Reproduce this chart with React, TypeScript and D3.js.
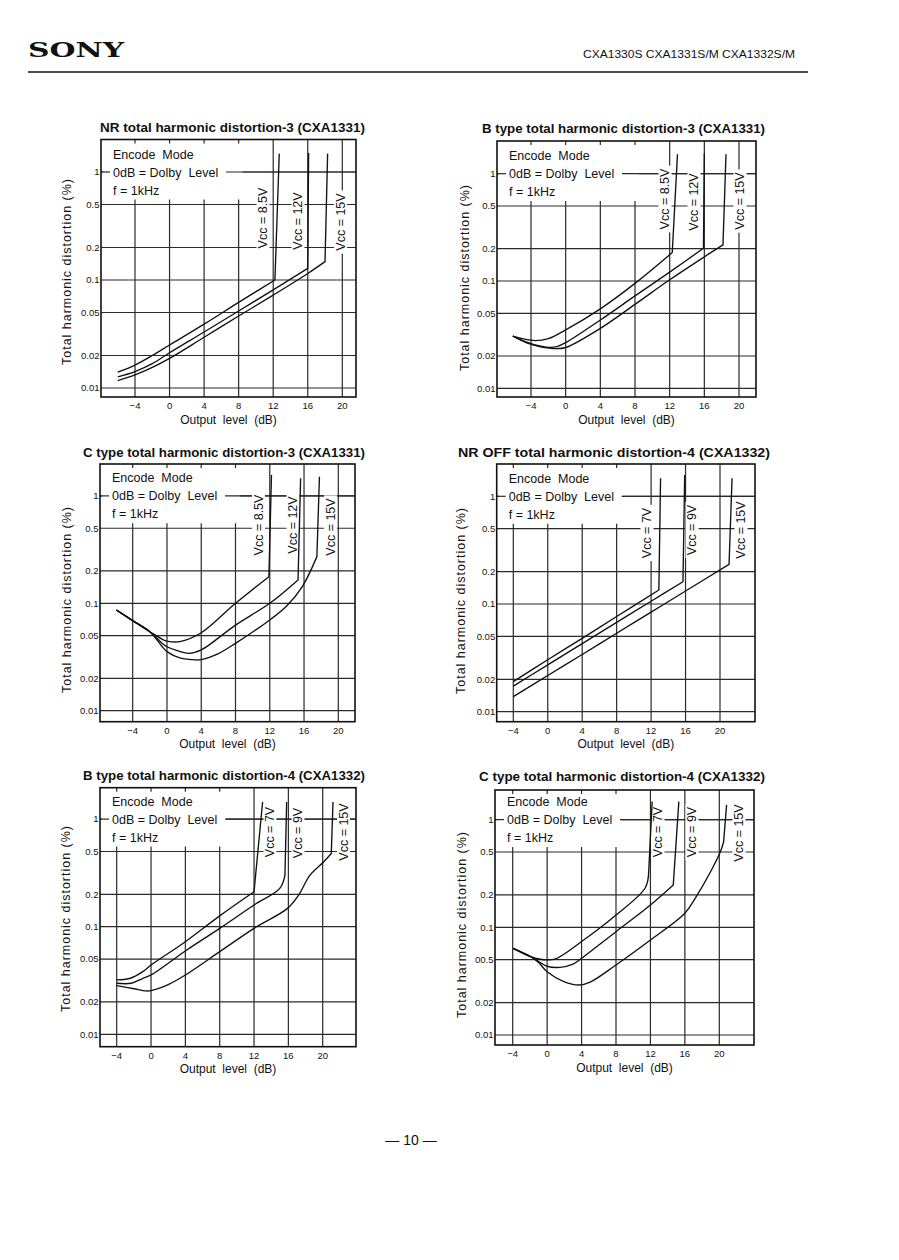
import React from 'react';
import * as d3 from 'd3';

// ---------- axis ticks ----------
const xTicks = [-4, 0, 4, 8, 12, 16, 20];
const xTickLabels = ['−4', '0', '4', '8', '12', '16', '20'];
const yTicks = [1, 0.5, 0.2, 0.1, 0.05, 0.02, 0.01];
const yTickLabels = ['1', '0.5', '0.2', '0.1', '0.05', '0.02', '0.01'];
const yTickLabelsC4 = ['1', '0.5', '0.2', '0.1', '00.5', '0.02', '0.01'];

// ---------- series: [output level dB, THD %]; last point = top of the clipping rise ----------
// NR total harmonic distortion-3 (CXA1331)
const nr3Vcc85 = [[-6, 0.014], [-4, 0.0163], [-2, 0.02], [0, 0.025], [4, 0.039], [8, 0.062], [12.2, 0.1], [12.7, 1.48]];
const nr3Vcc12 = [[-6, 0.0127], [-4, 0.0142], [-2, 0.0168], [0, 0.0212], [4, 0.033], [8, 0.0516], [12, 0.081], [16.0, 0.128], [16.1, 1.5]];
const nr3Vcc15 = [[-6, 0.0117], [-4, 0.0132], [-2, 0.0155], [0, 0.0188], [4, 0.0295], [8, 0.0464], [12, 0.0725], [16, 0.115], [18.0, 0.148], [18.3, 1.48]];
// B type total harmonic distortion-3 (CXA1331)
const b3Vcc85 = [[-6.1, 0.0307], [-5, 0.029], [-3.5, 0.0278], [-2, 0.029], [0, 0.035], [4, 0.055], [8, 0.095], [12.3, 0.184], [12.9, 1.52]];
const b3Vcc12 = [[-6.1, 0.0307], [-4.5, 0.027], [-3, 0.0248], [-2, 0.0241], [-1, 0.0245], [0, 0.0266], [4, 0.0433], [8, 0.0726], [12, 0.121], [15.9, 0.202], [16.0, 1.55]];
const b3Vcc15 = [[-6.1, 0.0307], [-4.5, 0.0265], [-3, 0.0245], [-1.1, 0.0234], [0, 0.024], [4, 0.0362], [8, 0.0606], [12, 0.1026], [16, 0.168], [18.15, 0.217], [18.5, 1.52]];
// C type total harmonic distortion-3 (CXA1331)
const c3Vcc85 = [[-5.9, 0.0867], [-4, 0.069], [-2, 0.0544], [-0.5, 0.046], [0, 0.0445], [1.5, 0.044], [4, 0.0532], [8, 0.1], [11.9, 0.177], [12.2, 1.57]];
const c3Vcc12 = [[-5.9, 0.0867], [-4, 0.069], [-2, 0.0544], [-0.5, 0.042], [0, 0.0394], [1.3, 0.036], [2.6, 0.0342], [4, 0.0368], [8, 0.0627], [12, 0.1], [15.3, 0.165], [15.6, 1.46]];
const c3Vcc15 = [[-5.9, 0.0867], [-4, 0.069], [-2, 0.0544], [-0.5, 0.039], [0, 0.0355], [1.5, 0.031], [3.4, 0.0297], [4, 0.0299], [6, 0.034], [8, 0.0424], [12, 0.07], [14, 0.095], [15.8, 0.143], [17.5, 0.272], [17.8, 1.51]];
// NR OFF total harmonic distortion-4 (CXA1332)
const nroff4Vcc7 = [[-4, 0.019], [0, 0.0304], [4, 0.048], [8, 0.0765], [12.9, 0.135], [13.1, 1.47]];
const nroff4Vcc9 = [[-4, 0.0173], [0, 0.0272], [4, 0.0429], [8, 0.0675], [12, 0.106], [15.7, 0.161], [15.9, 1.58]];
const nroff4Vcc15 = [[-4, 0.0138], [0, 0.0217], [4, 0.034], [8, 0.0535], [12, 0.084], [16, 0.132], [21.05, 0.233], [21.4, 1.47]];
// B type total harmonic distortion-4 (CXA1332)
const b4Vcc7 = [[-4, 0.032], [-2.5, 0.033], [-1, 0.038], [0, 0.044], [4, 0.0725], [8, 0.126], [12, 0.211], [13, 1.44]];
const b4Vcc9 = [[-4, 0.0298], [-2.3, 0.0298], [-1, 0.033], [0, 0.0356], [4, 0.0595], [8, 0.0964], [12, 0.159], [15, 0.227], [15.6, 0.3], [15.8, 1.44]];
const b4Vcc15 = [[-4, 0.0283], [-2, 0.0265], [-0.6, 0.0253], [0, 0.0255], [2, 0.029], [4, 0.0356], [8, 0.0586], [12, 0.0966], [15.9, 0.148], [17.2, 0.197], [18.5, 0.3], [20.1, 0.4], [21.0, 0.479], [21.2, 1.44]];
// C type total harmonic distortion-4 (CXA1332)
const c4Vcc7 = [[-3.95, 0.0638], [-1.9, 0.0533], [-0.8, 0.0505], [0, 0.0498], [1, 0.051], [4, 0.0737], [8, 0.13], [11.4, 0.233], [11.8, 0.33], [12.2, 1.47]];
const c4Vcc9 = [[-3.95, 0.0638], [-1.9, 0.0533], [-1.3, 0.05], [0, 0.0435], [1.5, 0.0425], [3, 0.0455], [4, 0.0516], [8, 0.0911], [12, 0.161], [14.65, 0.247], [15.3, 1.47]];
const c4Vcc15 = [[-3.95, 0.0638], [-1.9, 0.0533], [-1.0, 0.047], [0, 0.0387], [1.94, 0.0313], [3.7, 0.0291], [5, 0.031], [8, 0.0447], [12, 0.0762], [16, 0.135], [17.2, 0.186], [19, 0.33], [20.1, 0.497], [20.5, 0.62], [20.85, 1.37]];

// ---------- texts ----------
const titles = [
  'NR total harmonic distortion-3 (CXA1331)',
  'B type total harmonic distortion-3 (CXA1331)',
  'C type total harmonic distortion-3 (CXA1331)',
  'NR OFF total harmonic distortion-4 (CXA1332)',
  'B type total harmonic distortion-4 (CXA1332)',
  'C type total harmonic distortion-4 (CXA1332)',
];
const labels3 = ['Vcc = 8.5V', 'Vcc = 12V', 'Vcc = 15V'];
const labels4 = ['Vcc = 7V', 'Vcc = 9V', 'Vcc = 15V'];
const boxLines = ['Encode  Mode', '0dB = Dolby  Level', 'f = 1kHz'];

// ---------- layout ----------
const FONT = '"Liberation Sans", Arial, Helvetica, sans-serif';
const panels = [
  { title: titles[0], frame: [101, 139.5, 356, 397], gx: [135, 342.3], gy: [388, 280], tx: 100, ty: 131.5, tl: 265,
    yt: [67, 272], yLabels: yTickLabels, series: [nr3Vcc85, nr3Vcc12, nr3Vcc15], labels: labels3,
    lpos: [[263, 218], [298, 221], [340.5, 222]] },
  { title: titles[1], frame: [497, 141, 756, 397], gx: [531, 739], gy: [388.3, 281], tx: 482, ty: 132.5, tl: 283,
    yt: [465, 278], yLabels: yTickLabels, series: [b3Vcc85, b3Vcc12, b3Vcc15], labels: labels3,
    lpos: [[665, 199], [694, 202], [740, 201]] },
  { title: titles[2], frame: [100, 464, 355, 721.7], gx: [132.7, 338.3], gy: [710.7, 603.3], tx: 83, ty: 456.5, tl: 282,
    yt: [66.7, 600], yLabels: yTickLabels, series: [c3Vcc85, c3Vcc12, c3Vcc15], labels: labels3,
    lpos: [[258.5, 525], [293, 525], [330.5, 527]] },
  { title: titles[3], frame: [496.7, 464, 755, 721.7], gx: [513.3, 720], gy: [711.7, 604], tx: 458, ty: 456.5, tl: 312,
    yt: [460.7, 601], yLabels: yTickLabels, series: [nroff4Vcc7, nroff4Vcc9, nroff4Vcc15], labels: labels4,
    lpos: [[647, 533], [692, 530], [741, 530]] },
  { title: titles[4], frame: [100, 787.7, 356, 1046.7], gx: [116.7, 322.7], gy: [1034.3, 926.7], tx: 83, ty: 779.5, tl: 282,
    yt: [66, 919], yLabels: yTickLabels, series: [b4Vcc7, b4Vcc9, b4Vcc15], labels: labels4,
    lpos: [[270, 832], [298, 833], [343.5, 832]] },
  { title: titles[5], frame: [495, 790, 754, 1045], gx: [512.7, 719.3], gy: [1035, 927.3], tx: 479, ty: 780.5, tl: 286,
    yt: [461.7, 925], yLabels: yTickLabelsC4, series: [c4Vcc7, c4Vcc9, c4Vcc15], labels: labels4,
    lpos: [[658, 832], [692, 832], [739, 833]] },
];

const CW: Record<string, number> = { V: 0.667, c: 0.5, ' ': 0.278, '=': 0.584, '.': 0.278 };
function textW(s: string, fs: number) {
  let w = 0;
  for (const ch of s) w += CW[ch] !== undefined ? CW[ch] : 0.556;
  return w * fs;
}

function Panel({ p }: { p: any }) {
  const [l, t, r, b] = p.frame;
  const x = d3.scaleLinear().domain([-4, 20]).range(p.gx);
  const y = d3.scaleLog().domain([0.01, 0.1]).range(p.gy);
  const textX = l + 12;
  const textEnd = textX + 110;
  const maskRight = Math.max(textEnd, x(8)) + 4;
  const y1 = y(1);
  const y05 = y(0.5);
  const smooth = d3.line<number[]>().x((d) => x(d[0])).y((d) => y(d[1])).curve(d3.curveCatmullRom.alpha(0.5));
  const pathFor = (pts: number[][]) => {
    const last = pts[pts.length - 1];
    return smooth(pts.slice(0, -1)) + `L${x(last[0])},${y(last[1])}`;
  };
  const gridStroke = '#2a2a2a';
  const fsV = 12.5;
  return (
    <g>
      <text x={p.tx} y={p.ty} fontFamily={FONT} fontWeight="bold" fontSize={13} textLength={p.tl} lengthAdjust="spacingAndGlyphs" fill="#111">
        {p.title}
      </text>
      {xTicks.map((v) => (
        <line key={'gx' + v} x1={x(v)} x2={x(v)} y1={t} y2={b} stroke={gridStroke} strokeWidth={1.2} />
      ))}
      {yTicks.map((v) => (
        <line key={'gy' + v} x1={l} x2={r} y1={y(v)} y2={y(v)} stroke={gridStroke} strokeWidth={1.2} />
      ))}
      <rect x={l + 2} y={t + 4} width={maskRight - l - 2} height={y05 - 5 - (t + 4)} fill="#fff" />
      <line x1={l} x2={l + 9} y1={y1} y2={y1} stroke={gridStroke} strokeWidth={1.2} />
      <line x1={textEnd + 3} x2={r} y1={y1} y2={y1} stroke={gridStroke} strokeWidth={1.2} />
      {p.labels.map((s: string, i: number) => {
        const len = textW(s, fsV);
        const [lx, ly] = p.lpos[i];
        return <rect key={'m' + i} x={lx - 6.5} y={ly - len / 2 - 3} width={13} height={len + 6} fill="#fff" />;
      })}
      {p.series.map((pts: number[][], i: number) => (
        <path key={'s' + i} d={pathFor(pts)} fill="none" stroke="#111" strokeWidth={1.35} strokeLinejoin="round" />
      ))}
      <rect x={l} y={t} width={r - l} height={b - t} fill="none" stroke="#111" strokeWidth={1.6} />
      {p.labels.map((s: string, i: number) => {
        const [lx, ly] = p.lpos[i];
        return (
          <text key={'l' + i} x={lx} y={ly} transform={`rotate(-90,${lx},${ly})`} textAnchor="middle" dominantBaseline="central"
            fontFamily={FONT} fontSize={fsV} fill="#111">
            {s}
          </text>
        );
      })}
      {boxLines.map((s, i) => (
        <text key={'b' + i} x={textX} y={y1 + 4.5 + (i - 1) * 18} fontFamily={FONT} fontSize={12.5} fill="#111" style={{ whiteSpace: 'pre' }}>
          {s}
        </text>
      ))}
      {yTicks.map((v, i) => (
        <text key={'yl' + v} x={l - 1.5} y={y(v)} dy="0.35em" textAnchor="end" fontFamily={FONT} fontSize={9.5} fill="#111">
          {p.yLabels[i]}
        </text>
      ))}
      {xTicks.map((v, i) => (
        <text key={'xl' + v} x={x(v)} y={b + 12} textAnchor="middle" fontFamily={FONT} fontSize={9.5} fill="#111">
          {xTickLabels[i]}
        </text>
      ))}
      <text x={(l + r) / 2} y={b + 26.5} textAnchor="middle" fontFamily={FONT} fontSize={12} fill="#111" style={{ whiteSpace: 'pre' }}>
        {'Output  level  (dB)'}
      </text>
      <text x={p.yt[0]} y={p.yt[1]} transform={`rotate(-90,${p.yt[0]},${p.yt[1]})`} textAnchor="middle" dominantBaseline="central"
        fontFamily={FONT} fontSize={12.5} textLength={186} lengthAdjust="spacing" fill="#111">
        Total harmonic distortion (%)
      </text>
    </g>
  );
}

export default function App() {
  return (
    <svg width={899} height={1260} viewBox="0 0 899 1260" style={{ position: 'absolute', left: 0, top: 0, background: '#fff' }}>
      <rect x={0} y={0} width={899} height={1260} fill="#fff" />
      <text x={28} y={57} fontFamily='"DejaVu Serif", "Liberation Serif", serif' fontWeight="bold" fontSize={20} textLength={96} lengthAdjust="spacingAndGlyphs" fill="#111">
        SONY
      </text>
      <text x={583} y={58} fontFamily={FONT} fontSize={11} textLength={212} lengthAdjust="spacingAndGlyphs" fill="#111">
        CXA1330S CXA1331S/M CXA1332S/M
      </text>
      <line x1={28} x2={808} y1={72} y2={72} stroke="#111" strokeWidth={1.5} />
      {panels.map((p, i) => (
        <Panel key={i} p={p} />
      ))}
      <text x={411} y={1145} textAnchor="middle" fontFamily={FONT} fontSize={14} fill="#111">
        — 10 —
      </text>
    </svg>
  );
}
